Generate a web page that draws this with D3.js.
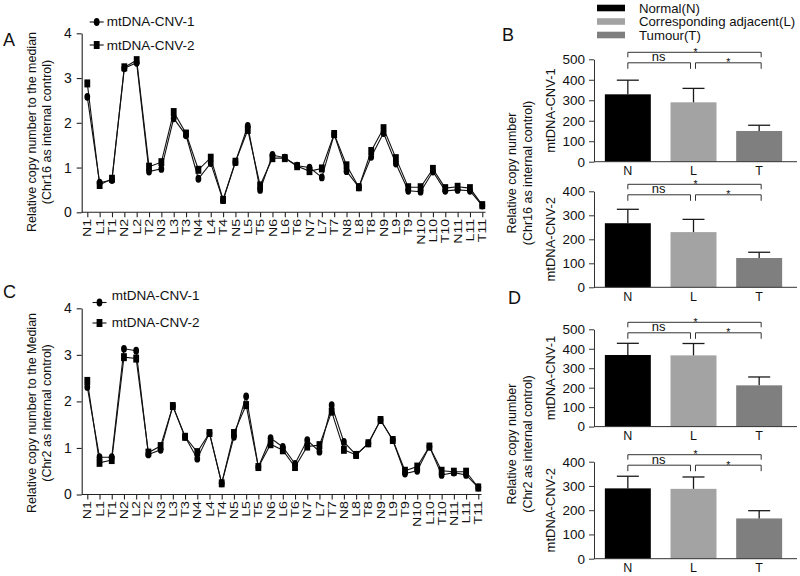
<!DOCTYPE html>
<html><head><meta charset="utf-8">
<script src="https://cdn.jsdelivr.net/npm/d3@7"></script>
<style>
body{margin:0;background:#fff}
svg{display:block}
text{font-family:"Liberation Sans",Arial,sans-serif;fill:#111}
</style>
</head><body>
<svg id="fig" width="800" height="576"></svg>
<script>
// ---------- DATA ----------
const samples = ["N1","L1","T1","N2","L2","T2","N3","L3","T3","N4","L4","T4","N5","L5","T5","N6","L6","T6","N7","L7","T7","N8","L8","T8","N9","L9","T9","N10","L10","T10","N11","L11","T11"];
const seriesNames = ["mtDNA-CNV-1","mtDNA-CNV-2"];
const chr16_cnv1 = [2.58,0.66,0.72,3.22,3.34,0.91,0.97,2.10,1.72,0.75,1.10,0.27,1.12,1.93,0.50,1.28,1.22,1.04,1.00,0.78,1.74,0.92,0.56,1.24,1.77,1.09,0.48,0.46,0.91,0.48,0.50,0.48,0.15];
const chr16_cnv2 = [2.88,0.61,0.75,3.24,3.40,1.02,1.12,2.24,1.76,0.95,1.22,0.28,1.13,1.84,0.60,1.21,1.21,1.03,0.92,0.98,1.75,1.05,0.56,1.37,1.88,1.21,0.56,0.56,0.97,0.54,0.57,0.54,0.16];
const chr2_cnv1 = [2.31,0.80,0.80,3.13,3.09,0.86,0.96,1.90,1.24,0.77,1.32,0.24,1.24,2.11,0.59,1.21,1.02,0.66,1.17,0.92,1.92,1.13,0.85,1.10,1.60,1.17,0.45,0.51,1.03,0.42,0.47,0.42,0.15];
const chr2_cnv2 = [2.44,0.68,0.74,2.95,2.92,0.90,1.04,1.90,1.24,0.91,1.32,0.24,1.32,1.92,0.59,1.08,0.95,0.59,1.03,1.06,1.78,0.96,0.85,1.10,1.60,1.17,0.51,0.60,1.03,0.51,0.49,0.49,0.15];
const lineTicks = [0,1,2,3,4];

const groups = ["N","L","T"];
const groupNames = ["Normal(N)","Corresponding adjacent(L)","Tumour(T)"];
const groupColors = ["#000000","#a3a3a3","#7f7f7f"];
const B_cnv1_mean = [329,290,150], B_cnv1_upper = [398,358,178];
const B_cnv2_mean = [267,230,122], B_cnv2_upper = [325,283,146];
const D_cnv1_mean = [368,366,212], D_cnv1_upper = [428,427,255];
const D_cnv2_mean = [290,288,166], D_cnv2_upper = [340,337,198];
const barTicks500 = [0,100,200,300,400,500];
const barTicks400 = [0,100,200,300,400];
const sigLabels = ["ns","*","*"]; // N-L, L-T, N-T

// ---------- DRAW ----------
const svg = d3.select("#fig");
const FONT = '"Liberation Sans",Arial,sans-serif';

function panelLetter(t, x, y){
  svg.append("text").attr("x",x).attr("y",y).attr("font-size",18).text(t);
}

function lineChart(cfg){
  const g = svg.append("g");
  const x = d3.scalePoint().domain(samples).range(cfg.xr);
  const y = d3.scaleLinear().domain([0,4]).range(cfg.yr);

  const ya = g.append("g").attr("transform",`translate(${cfg.ax},0)`)
    .call(d3.axisLeft(y).tickValues(lineTicks).tickSize(5).tickSizeOuter(0).tickPadding(5).tickFormat(d3.format("d")));
  ya.select(".domain").attr("stroke","#222").attr("stroke-width",1.1);
  ya.selectAll(".tick line").attr("stroke","#222").attr("stroke-width",1.1);
  ya.selectAll(".tick text").attr("font-size",14).attr("font-family",FONT).attr("fill","#111");

  const xa = g.append("g").attr("transform",`translate(0,${cfg.yr[0]})`)
    .call(d3.axisBottom(x).tickSize(5).tickSizeOuter(0));
  xa.select(".domain").attr("d",`M${cfg.ax},0H${cfg.xEnd}`).attr("stroke","#222").attr("stroke-width",1.1);
  xa.selectAll(".tick line").attr("stroke","#222").attr("stroke-width",1.1);
  xa.selectAll(".tick text")
    .attr("x",0).attr("y",0).attr("dy","0.36em")
    .attr("text-anchor","end")
    .attr("transform","translate(0,6.5) rotate(-90) scale(1.42,1)")
    .attr("font-size",10).attr("font-family",FONT).attr("fill","#111");

  const line = d3.line().x((d,i)=>x(samples[i])).y(d=>y(d));
  [cfg.s1, cfg.s2].forEach(s=>{
    g.append("path").datum(s).attr("d",line).attr("fill","none").attr("stroke","#111").attr("stroke-width",1.1);
  });
  g.append("g").selectAll("ellipse").data(cfg.s1).join("ellipse")
    .attr("cx",(d,i)=>x(samples[i])).attr("cy",d=>y(d)).attr("rx",2.9).attr("ry",3.9).attr("fill","#000");
  g.append("g").selectAll("rect").data(cfg.s2).join("rect")
    .attr("x",(d,i)=>x(samples[i])-2.9).attr("y",d=>y(d)-4).attr("width",5.8).attr("height",8).attr("fill","#000");

  // legend
  cfg.legend.forEach((L,i)=>{
    const lg = g.append("g").attr("transform",`translate(${L.mx},${L.my})`);
    lg.append("line").attr("x1",-7).attr("x2",7).attr("stroke","#111").attr("stroke-width",1.1);
    if(i===0) lg.append("ellipse").attr("rx",2.9).attr("ry",3.9).attr("fill","#000");
    else lg.append("rect").attr("x",-2.9).attr("y",-4).attr("width",5.8).attr("height",8).attr("fill","#000");
    g.append("text").attr("x",L.tx).attr("y",L.ty).attr("dy","0.35em").attr("font-size",13.5).text(seriesNames[i]);
  });

  // axis title
  cfg.title.forEach((t,i)=>{
    g.append("text").attr("transform",`translate(${cfg.titleX[i]},${cfg.titleY}) rotate(-90)`)
      .attr("text-anchor","middle").attr("dy","0.35em").attr("font-size",12.5).text(t);
  });
}

function barChart(cfg){
  const g = svg.append("g");
  const x = d3.scaleBand().domain(groups).range([595,792]).paddingInner(0.3).paddingOuter(0.15);
  const y = d3.scaleLinear().domain([0,cfg.max]).range([cfg.base,cfg.top]);
  const bw = x.bandwidth();

  g.append("g").selectAll("rect").data(cfg.mean).join("rect")
    .attr("x",(d,i)=>x(groups[i])).attr("y",d=>y(d))
    .attr("width",bw).attr("height",d=>y(0)-y(d))
    .attr("fill",(d,i)=>groupColors[i]);

  const eg = g.append("g").attr("stroke","#1a1a1a").attr("stroke-width",1.3);
  cfg.upper.forEach((u,i)=>{
    const cx = x(groups[i]) + bw/2;
    eg.append("line").attr("x1",cx).attr("x2",cx).attr("y1",y(cfg.mean[i])).attr("y2",y(u));
    eg.append("line").attr("x1",cx-11).attr("x2",cx+11).attr("y1",y(u)).attr("y2",y(u));
  });

  const ya = g.append("g").attr("transform","translate(594,0)")
    .call(d3.axisLeft(y).tickValues(cfg.ticks).tickSize(5).tickSizeOuter(0).tickPadding(4));
  ya.select(".domain").attr("stroke","#333");
  ya.selectAll(".tick line").attr("stroke","#333");
  ya.selectAll(".tick text").attr("font-size",13.5).attr("font-family",FONT).attr("fill","#111");

  const xa = g.append("g").attr("transform",`translate(0,${cfg.base})`)
    .call(d3.axisBottom(x).tickSize(0).tickPadding(4.8));
  xa.select(".domain").attr("d","M594,0H797").attr("stroke","#333");
  xa.selectAll(".tick text").attr("font-size",12.5).attr("font-family",FONT).attr("fill","#111");

  // y-label
  g.append("text").attr("transform",`translate(550,${(cfg.base+cfg.top)/2}) rotate(-90)`)
    .attr("text-anchor","middle").attr("dy","0.35em").attr("font-size",13).text(cfg.label);

  // significance brackets
  const c = groups.map(k=>x(k)+bw/2);
  const yTop = y(cfg.max);
  const bg = g.append("g").attr("fill","none").attr("stroke","#333").attr("stroke-width",1);
  const yo = yTop - 7, yi = yTop + 3.5;
  const br = (x1,x2,yy,leg)=>bg.append("path").attr("d",`M${x1},${yy+leg}V${yy}H${x2}V${yy+leg}`);
  br(c[0], c[2]+2, yo, 5);
  br(c[0], c[1]-3, yi, 6);
  br(c[1]+2, c[2]+2, yi, 6);
  g.append("text").attr("x",(c[0]+c[1])/2-2).attr("y",yi-1.5).attr("text-anchor","middle").attr("font-size",13).text(sigLabels[0]);
  g.append("text").attr("x",(c[1]+c[2])/2+2).attr("y",yi+3.5).attr("text-anchor","middle").attr("font-size",10.5).text(sigLabels[1]);
  g.append("text").attr("x",(c[0]+c[2])/2+2).attr("y",yo+3.6).attr("text-anchor","middle").attr("font-size",10.5).text(sigLabels[2]);
}

function pairTitle(lines, cy){
  [511.5, 528].forEach((xx,i)=>{
    svg.append("text").attr("transform",`translate(${xx},${cy}) rotate(-90)`)
      .attr("text-anchor","middle").attr("dy","0.35em").attr("font-size",12.5).text(lines[i]);
  });
}

// Panel A
lineChart({xr:[87.3,482.3], yr:[212.3,33.3], ax:81.7, xEnd:485.5, s1:chr16_cnv1, s2:chr16_cnv2,
  legend:[{mx:96.7,my:22,tx:106.7,ty:21},{mx:96.7,my:45,tx:106.7,ty:45}],
  title:["Relative copy number  to  the median","(Chr16 as internal control)"], titleX:[31.7,46.7], titleY:132});
// Panel C
lineChart({xr:[87.3,478.3], yr:[494.5,308.3], ax:81.7, xEnd:481.5, s1:chr2_cnv1, s2:chr2_cnv2,
  legend:[{mx:99.5,my:302.5,tx:111.7,ty:295},{mx:99.5,my:323,tx:111.7,ty:322.7}],
  title:["Relative copy number  to  the Median","(Chr2 as internal control)"], titleX:[31.7,46.7], titleY:413});

// Panel B
barChart({top:59.3, base:161.7, max:500, ticks:barTicks500, mean:B_cnv1_mean, upper:B_cnv1_upper, label:seriesNames[0]});
barChart({top:191.3, base:287.3, max:400, ticks:barTicks400, mean:B_cnv2_mean, upper:B_cnv2_upper, label:seriesNames[1]});
pairTitle(["Relative copy number","(Chr16 as internal control)"], 173);
// Panel D
barChart({top:329.3, base:426.6, max:500, ticks:barTicks500, mean:D_cnv1_mean, upper:D_cnv1_upper, label:seriesNames[0]});
barChart({top:461.7, base:558.7, max:400, ticks:barTicks400, mean:D_cnv2_mean, upper:D_cnv2_upper, label:seriesNames[1]});
pairTitle(["Relative copy number","(Chr2 as internal control)"], 444);

// Legend for bars
const leg = svg.append("g");
groupNames.forEach((n,i)=>{
  const cy = 8 + i*13.5;
  leg.append("rect").attr("x",597).attr("y",cy-3.3).attr("width",28).attr("height",6.6).attr("fill",groupColors[i]);
  leg.append("text").attr("x",639).attr("y",cy).attr("dy","0.35em").attr("font-size",13.2).text(n);
});

panelLetter("A",3,46);
panelLetter("B",502,41);
panelLetter("C",3,298);
panelLetter("D",508,304);
</script>
</body></html>
